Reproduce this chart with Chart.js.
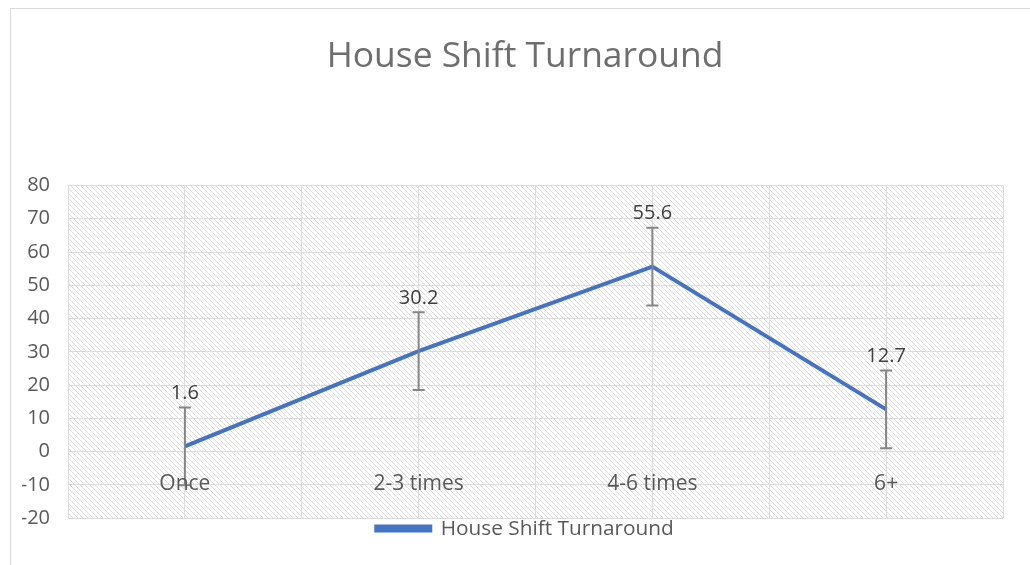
<!DOCTYPE html>
<html>
<head>
<meta charset="utf-8">
<script src="https://cdn.jsdelivr.net/npm/chart.js@4.4.1/dist/chart.umd.min.js"></script>
<style>
  html, body { margin: 0; padding: 0; background: #fff; }
  #wrap { position: relative; width: 1030px; height: 565px; overflow: hidden; }
  #frame { position: absolute; left: 10px; top: 8px; width: 1040px; height: 580px; border: 1px solid #d9d9d9; box-sizing: border-box; }
  canvas { position: absolute; left: 0; top: 0; }
</style>
</head>
<body>
<div id="wrap">
  <div id="frame"></div>
  <canvas id="chart" width="1030" height="565"></canvas>
</div>
<script>
const categories = ["Once", "2-3 times", "4-6 times", "6+"];
const turnaround = [1.6, 30.2, 55.6, 12.7];
const errorAmount = [11.7, 11.7, 11.7, 11.7];
const yMin = -20;
const yMax = 80;
const yStep = 10;

const fontFamily = "'Open Sans', sans-serif";

// diagonal hatch for the plot area
function makeHatch() {
  const c = document.createElement("canvas");
  c.width = 5;
  c.height = 5;
  const g = c.getContext("2d");
  g.strokeStyle = "#dcdcdc";
  g.lineWidth = 1;
  g.beginPath();
  g.moveTo(0, 0); g.lineTo(5, 5);
  g.moveTo(-3, 2); g.lineTo(2, 7);
  g.moveTo(2, -3); g.lineTo(7, 2);
  g.stroke();
  return g.createPattern(c, "repeat");
}

const hatchPlugin = {
  id: "hatch",
  beforeDraw(chart) {
    const { ctx, chartArea } = chart;
    ctx.save();
    ctx.fillStyle = makeHatch();
    ctx.fillRect(chartArea.left, chartArea.top, chartArea.right - chartArea.left, chartArea.bottom - chartArea.top);
    ctx.restore();
  },
};

// error bars, value labels and category labels at the zero line
const extrasPlugin = {
  id: "extras",
  afterDatasetsDraw(chart) {
    const { ctx } = chart;
    const xs = chart.scales.x;
    const ys = chart.scales.y;
    ctx.save();
    ctx.strokeStyle = "#858585";
    ctx.lineWidth = 2;
    turnaround.forEach((v, i) => {
      const x = xs.getPixelForValue(i);
      const top = ys.getPixelForValue(v + errorAmount[i]);
      const bot = ys.getPixelForValue(v - errorAmount[i]);
      ctx.beginPath();
      ctx.moveTo(x, top); ctx.lineTo(x, bot);
      ctx.moveTo(x - 6, top); ctx.lineTo(x + 6, top);
      ctx.moveTo(x - 6, bot); ctx.lineTo(x + 6, bot);
      ctx.stroke();
    });
    ctx.font = "20px " + fontFamily;
    ctx.textAlign = "center";
    ctx.textBaseline = "middle";
    ctx.fillStyle = "#404040";
    turnaround.forEach((v, i) => {
      const x = xs.getPixelForValue(i);
      const top = ys.getPixelForValue(v + errorAmount[i]);
      ctx.fillText(String(v), x, top - 14);
    });
    ctx.font = "21px " + fontFamily;
    ctx.fillStyle = "#595959";
    const zero = ys.getPixelForValue(0);
    categories.forEach((c, i) => {
      ctx.fillText(c, xs.getPixelForValue(i), zero + 32);
    });
    ctx.restore();
  },
};

new Chart(document.getElementById("chart").getContext("2d"), {
  type: "line",
  data: {
    labels: categories,
    datasets: [
      {
        label: "House Shift Turnaround",
        data: turnaround,
        borderColor: "#4472C4",
        backgroundColor: "#4472C4",
        borderWidth: 4,
        pointRadius: 0,
        tension: 0,
      },
    ],
  },
  options: {
    responsive: false,
    animation: false,
    layout: { padding: { left: 22, right: 2, top: 0, bottom: 16 } },
    scales: {
      x: {
        type: "category",
        offset: true,
        ticks: { display: false },
        grid: { display: false },
        border: { display: false },
        afterFit(scale) { scale.height = 0; },
      },
      x2: {
        type: "linear",
        position: "bottom",
        min: -0.5,
        max: 3.5,
        ticks: { display: false, stepSize: 0.5 },
        grid: { color: "#dcdcdc", lineWidth: 1, drawTicks: false },
        border: { display: false },
        afterFit(scale) { scale.height = 0; },
      },
      y: {
        min: yMin,
        max: yMax,
        ticks: {
          stepSize: yStep,
          color: "#595959",
          padding: 18,
          font: { family: fontFamily, size: 20 },
        },
        grid: { color: "#dcdcdc", lineWidth: 1, drawTicks: false },
        border: { display: false },
        afterFit(scale) { scale.width = 46; },
      },
      yR: {
        position: "right",
        ticks: { display: false },
        grid: { display: false },
        border: { display: false },
        afterFit(scale) { scale.width = 25; },
      },
    },
    plugins: {
      title: {
        display: true,
        text: "House Shift Turnaround",
        color: "#6e6e6e",
        font: { family: fontFamily, size: 35.4, weight: "normal" },
        padding: { top: 36, bottom: 107 },
      },
      legend: {
        position: "bottom",
        labels: {
          boxWidth: 54,
          boxHeight: 4,
          padding: 0,
          color: "#595959",
          font: { family: fontFamily, size: 20.8 },
        },
      },
      tooltip: { enabled: false },
    },
  },
  plugins: [hatchPlugin, extrasPlugin],
});
</script>
</body>
</html>
